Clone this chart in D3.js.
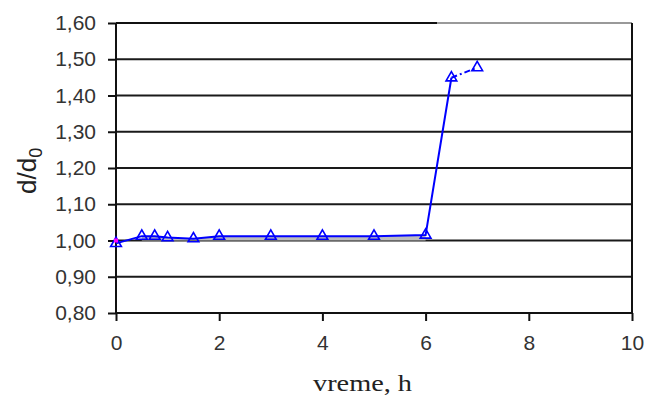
<!DOCTYPE html>
<html><head><meta charset="utf-8">
<script src="https://cdn.jsdelivr.net/npm/d3@7"></script>
<style>body{margin:0;background:#fff}svg{display:block}</style>
</head><body>
<svg id="c" width="647" height="398"></svg>
<script>
const hours = [0, 0.5, 0.75, 1, 1.5, 2, 3, 4, 5, 6, 6.5, 7];
const ratio = [0.992, 1.012, 1.012, 1.008, 1.005, 1.012, 1.012, 1.012, 1.012, 1.015, 1.449, 1.477];
const refHours = [0];
const refRatio = [1.0];
const xTicks = [0, 2, 4, 6, 8, 10];
const yTicks = [0.8, 0.9, 1.0, 1.1, 1.2, 1.3, 1.4, 1.5, 1.6];
const xTitle = "vreme, h";
const yTitle = "d/d";
const ySub = "0";

const svg = d3.select("#c");
const L = 116, R = 632, T = 23, B = 313;
const x = d3.scaleLinear().domain([0, 10]).range([L, R]);
const y = d3.scaleLinear().domain([0.8, 1.6]).range([B, T]);
const fmt = v => d3.format(".2f")(v).replace(".", ",");

// gridlines
svg.append("g").selectAll("line").data(yTicks.filter(v => v < 1.6)).join("line")
  .attr("x1", L).attr("x2", R).attr("y1", d => y(d)).attr("y2", d => y(d))
  .attr("stroke", "#1a1a1a").attr("stroke-width", 2);
// top border (black then gray)
svg.append("line").attr("x1", L).attr("x2", 437).attr("y1", T).attr("y2", T)
  .attr("stroke", "#111").attr("stroke-width", 2);
svg.append("line").attr("x1", 437).attr("x2", R).attr("y1", T).attr("y2", T)
  .attr("stroke", "#999").attr("stroke-width", 2);
svg.append("line").attr("x1", R).attr("x2", R).attr("y1", T).attr("y2", B)
  .attr("stroke", "#111").attr("stroke-width", 2);

// axes
const yAxis = d3.axisLeft(y).tickValues(yTicks).tickFormat(fmt).tickSize(8).tickPadding(12);
const gy = svg.append("g").attr("transform", `translate(${L},0)`).call(yAxis);
const xAxis = d3.axisBottom(x).tickValues(xTicks).tickFormat(d3.format("d")).tickSize(8).tickPadding(14);
const gx = svg.append("g").attr("transform", `translate(0,${B})`).call(xAxis);
[gx, gy].forEach(g => {
  g.select(".domain").attr("stroke", "#111").attr("stroke-width", 2);
  g.selectAll(".tick line").attr("stroke", "#111").attr("stroke-width", 2);
  g.selectAll(".tick text").attr("font-family", "Liberation Sans, Arial, sans-serif")
    .attr("font-size", 21).attr("fill", "#333");
});
gx.select(".domain").attr("d", `M${L},0H${R}`);
gy.select(".domain").attr("d", `M0,${T}V${B}`);

// data
const pts = hours.map((h, i) => ({x: h, y: ratio[i]}));
const fillPts = pts.filter(p => p.x >= 0.5 && p.x <= 6);
svg.append("path").datum(fillPts)
  .attr("d", d3.area().x(d => x(d.x)).y0(y(1.0)).y1(d => y(d.y)))
  .attr("fill", "#bcbcbc");
svg.append("path").datum(pts.slice(0, 11))
  .attr("d", d3.line().x(d => x(d.x)).y(d => y(d.y)))
  .attr("fill", "none").attr("stroke", "#0000ff").attr("stroke-width", 2);
svg.append("path").datum(pts.slice(10))
  .attr("d", d3.line().x(d => x(d.x)).y(d => y(d.y)))
  .attr("fill", "none").attr("stroke", "#0000ff").attr("stroke-width", 2)
  .attr("stroke-dasharray", "6,3,2,3");
const tri = d3.symbol().type(d3.symbolTriangle).size(50);
svg.append("g").selectAll("path").data(pts).join("path")
  .attr("d", tri).attr("transform", d => `translate(${x(d.x)},${y(d.y)})`)
  .attr("fill", "none").attr("stroke", "#0000ff").attr("stroke-width", 1.6);
svg.append("g").selectAll("rect").data(refHours.map((h, i) => ({x: h, y: refRatio[i]}))).join("rect")
  .attr("x", d => x(d.x) - 2).attr("y", d => y(d.y) - 2).attr("width", 4).attr("height", 4)
  .attr("fill", "#ff00ff");

// titles
svg.append("text").attr("x", 313).attr("y", 391)
  .attr("font-family", "Liberation Serif, Times New Roman, serif").attr("font-size", 23)
  .attr("fill", "#222").attr("textLength", 99).attr("lengthAdjust", "spacingAndGlyphs")
  .text(xTitle);
const yt = svg.append("text").attr("transform", "translate(36,194) rotate(-90)")
  .attr("font-family", "Liberation Sans, Arial, sans-serif").attr("font-size", 26).attr("fill", "#222");
yt.append("tspan").text(yTitle);
yt.append("tspan").attr("font-size", 18).attr("dy", 6).text(ySub);
</script>
</body></html>
